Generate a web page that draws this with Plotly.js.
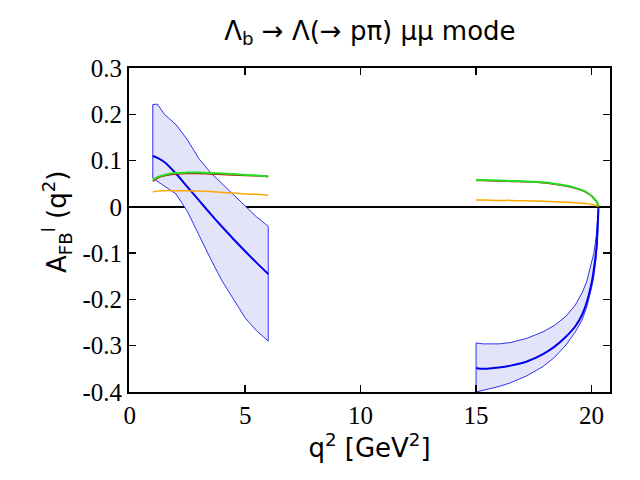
<!DOCTYPE html>
<html>
<head>
<meta charset="utf-8">
<script src="https://cdn.plot.ly/plotly-3.0.1.min.js"></script>
<style>
  html, body { margin: 0; padding: 0; background: #fff; }
  #chart { width: 640px; height: 480px; }
</style>
</head>
<body>
<div id="chart"></div>
<script>
// Low q^2 region (1 - 6 GeV^2)
const lowQ2 = [1.0, 1.2, 1.5, 2.0, 2.5, 3.0, 3.5, 4.0, 4.5, 5.0, 5.5, 6.0];
const lowCentral = [0.110, 0.106, 0.097, 0.072, 0.043, 0.014, -0.015, -0.043, -0.070, -0.096, -0.121, -0.145];
const lowUpper = [0.221, 0.222, 0.200, 0.178, 0.145, 0.104, 0.074, 0.050, 0.027, 0.003, -0.022, -0.042];
const lowLower = [0.062, 0.055, 0.046, 0.028, -0.010, -0.060, -0.112, -0.160, -0.200, -0.240, -0.268, -0.290];
const lowGreen = [0.057, 0.064, 0.069, 0.073, 0.074, 0.074, 0.073, 0.072, 0.071, 0.069, 0.068, 0.066];
const lowRed = [0.055, 0.062, 0.067, 0.071, 0.072, 0.072, 0.071, 0.070, 0.069, 0.068, 0.067, 0.065];
const lowOrange = [0.032, 0.034, 0.035, 0.035, 0.035, 0.034, 0.033, 0.031, 0.030, 0.028, 0.027, 0.025];

// High q^2 region (15 - 20.3 GeV^2)
const highQ2 = [15.0, 15.3, 16.0, 16.5, 17.2, 17.9, 18.4, 18.9, 19.3, 19.6, 19.8, 20.0, 20.1, 20.2, 20.25, 20.3];
const highCentral = [-0.348, -0.350, -0.347, -0.343, -0.334, -0.318, -0.302, -0.280, -0.258, -0.232, -0.205, -0.165, -0.135, -0.095, -0.060, -0.003];
const highUpper = [-0.294, -0.296, -0.296, -0.293, -0.284, -0.270, -0.256, -0.236, -0.212, -0.185, -0.160, -0.122, -0.100, -0.065, -0.035, -0.002];
const highLower = [-0.400, -0.396, -0.388, -0.380, -0.365, -0.345, -0.325, -0.298, -0.270, -0.243, -0.215, -0.175, -0.150, -0.110, -0.079, -0.004];
const highGreen = [0.058, 0.058, 0.057, 0.056, 0.055, 0.053, 0.050, 0.046, 0.041, 0.036, 0.031, 0.024, 0.019, 0.013, 0.009, 0.001];
const highRed = [0.057, 0.057, 0.056, 0.055, 0.054, 0.052, 0.049, 0.045, 0.040, 0.035, 0.030, 0.023, 0.018, 0.012, 0.008, 0.001];
const highOrange = [0.015, 0.015, 0.014, 0.014, 0.013, 0.012, 0.011, 0.010, 0.009, 0.008, 0.007, 0.005, 0.004, 0.003, 0.002, 0.000];

const yTicks = [-0.4, -0.3, -0.2, -0.1, 0, 0.1, 0.2, 0.3];
const yTickLabels = ['-0.4', '-0.3', '-0.2', '-0.1', '0', '0.1', '0.2', '0.3'];
const xTicks = [0, 5, 10, 15, 20];

const bandFill = '#e3e4fa';
const blue = '#0000ee';

// Closed band polygon: upper curve out, lower curve back
function bandTrace(x, upper, lower) {
    return {
        type: 'scatter',
        mode: 'lines',
        x: x.concat(x.slice().reverse()).concat([x[0]]),
        y: upper.concat(lower.slice().reverse()).concat([upper[0]]),
        fill: 'toself',
        fillcolor: bandFill,
        line: { color: blue, width: 0.8 },
        hoverinfo: 'skip'
    };
}

function lineTrace(x, y, color, width) {
    return {
        type: 'scatter',
        mode: 'lines',
        x: x,
        y: y,
        line: { color: color, width: width, shape: 'spline' }
    };
}

const data = [
    bandTrace(lowQ2, lowUpper, lowLower),
    bandTrace(highQ2, highUpper, highLower),
    lineTrace(lowQ2, lowCentral, blue, 2),
    lineTrace(highQ2, highCentral, blue, 2),
    lineTrace(lowQ2, lowOrange, '#ffa500', 1.5),
    lineTrace(highQ2, highOrange, '#ffa500', 1.5),
    lineTrace(lowQ2, lowRed, '#cc0000', 1.5),
    lineTrace(highQ2, highRed, '#cc0000', 1.5),
    lineTrace(lowQ2, lowGreen, '#22dd22', 2),
    lineTrace(highQ2, highGreen, '#22dd22', 2)
];

const tickFont = { family: '"Liberation Serif", "Times New Roman", Times, serif', size: 25, color: '#000' };
const titleFont = { family: '"DejaVu Sans", sans-serif', size: 26, color: '#000' };

const layout = {
    width: 640,
    height: 480,
    margin: { t: 68, r: 30, b: 88, l: 129 },
    paper_bgcolor: '#fff',
    plot_bgcolor: '#fff',
    showlegend: false,
    font: { family: '"DejaVu Sans", sans-serif', color: '#000' },
    title: {
        text: 'Λ<sub>b</sub> → Λ(→ pπ) μμ mode',
        font: titleFont,
        x: 0.578,
        xanchor: 'center',
        y: 0.955
    },
    xaxis: {
        range: [-0.03, 20.8],
        tickvals: xTicks,
        ticks: 'inside',
        ticklen: 7,
        tickwidth: 1.5,
        tickcolor: '#000',
        mirror: 'ticks',
        showline: true,
        linecolor: '#000',
        linewidth: 2,
        showgrid: false,
        zeroline: false,
        tickfont: tickFont,
        title: {
            text: 'q<sup>2</sup> [GeV<sup>2</sup>]',
            font: titleFont,
            standoff: 6
        }
    },
    yaxis: {
        range: [-0.4, 0.3],
        tickvals: yTicks,
        ticktext: yTickLabels,
        ticks: 'inside',
        ticklen: 7,
        tickwidth: 1.5,
        tickcolor: '#000',
        mirror: 'ticks',
        showline: true,
        linecolor: '#000',
        linewidth: 2,
        showgrid: false,
        zeroline: true,
        zerolinecolor: '#000',
        zerolinewidth: 1.5,
        tickfont: tickFont,
        title: {
            // leading spaces nudge the rotated title up a little
            text: '&nbsp;&nbsp;A<sub>FB</sub><sup>l</sup> (q<sup>2</sup>)',
            font: titleFont,
            standoff: 8
        }
    }
};

Plotly.newPlot('chart', data, layout, { displayModeBar: false, staticPlot: true });
</script>
</body>
</html>
